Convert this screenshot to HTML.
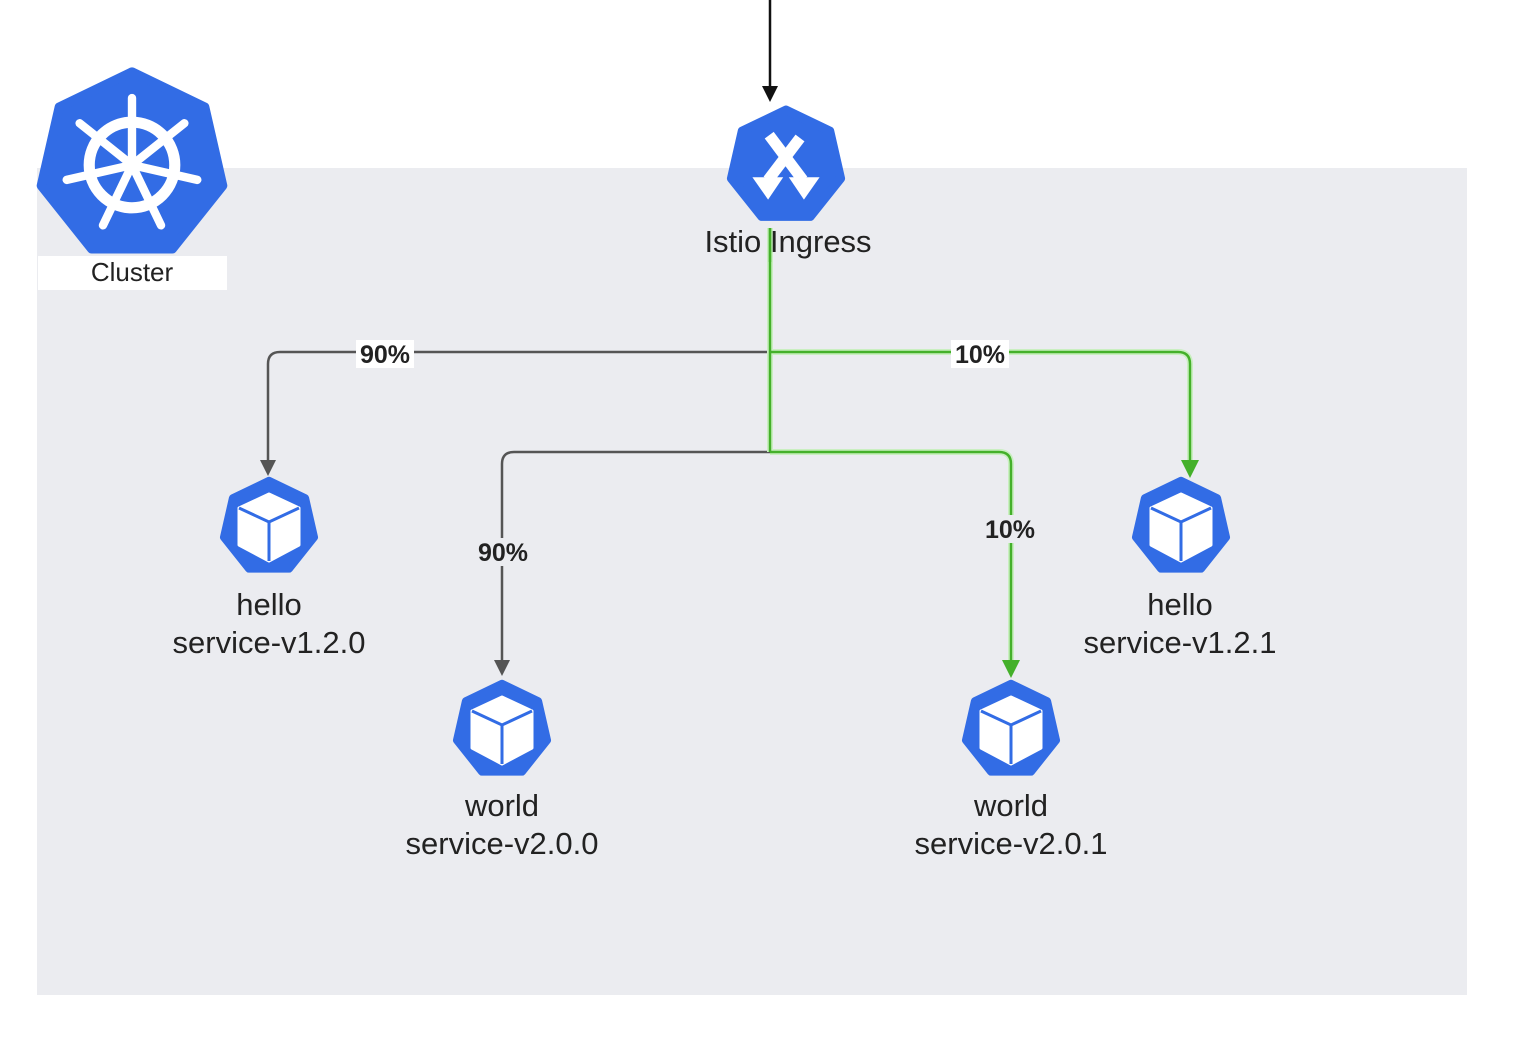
<!DOCTYPE html>
<html><head><meta charset="utf-8"><style>
html,body{margin:0;padding:0;background:#fff;}
svg{display:block;font-family:"Liberation Sans",Arial,sans-serif;}
</style></head><body>
<svg width="1518" height="1050" viewBox="0 0 1518 1050" xmlns="http://www.w3.org/2000/svg">
<defs>
<polygon id="hep" points="0,-1 0.7818,-0.6235 0.9749,0.2225 0.4339,0.901 -0.4339,0.901 -0.9749,0.2225 -0.7818,-0.6235"/>
<g id="svc">
<use href="#hep" transform="scale(0.93)" fill="#326ce5" stroke="#326ce5" stroke-width="0.16" stroke-linejoin="round"/>
<polygon points="0,-0.66 0.6,-0.38 0.6,0.36 0,0.68 -0.6,0.36 -0.6,-0.38" fill="#fff" stroke="#fff" stroke-width="0.06" stroke-linejoin="round"/>
<polyline points="-0.6,-0.38 0,-0.1 0.6,-0.38" fill="none" stroke="#326ce5" stroke-width="0.06"/>
<line x1="0" y1="-0.1" x2="0" y2="0.68" stroke="#326ce5" stroke-width="0.06"/>
</g>
</defs>
<rect x="37" y="168" width="1430" height="827" fill="#ebecf0"/>
<rect x="38" y="256" width="189" height="34" fill="#fff"/>
<line x1="770" y1="0" x2="770" y2="88" stroke="#111" stroke-width="2.5"/>
<path d="M762,86 L778,86 L770,102 Z" fill="#111"/>
<g fill="none" stroke="#555" stroke-width="2.5">
<path d="M770,352 L280,352 Q268,352 268,364 L268,462"/>
<path d="M770,452 L514,452 Q502,452 502,464 L502,662"/>
</g>
<path d="M260,460 L276,460 L268,476 Z" fill="#555"/>
<path d="M494,660 L510,660 L502,676 Z" fill="#555"/>
<g fill="none" stroke="#c9efc0" stroke-width="6">
<path d="M770,228 L770,452"/>
<path d="M770,352 L1178,352 Q1190,352 1190,364 L1190,462"/>
<path d="M770,452 L999,452 Q1011,452 1011,464 L1011,662"/>
</g>
<g fill="none" stroke="#44b02a" stroke-width="2.5">
<path d="M770,228 L770,452"/>
<path d="M770,352 L1178,352 Q1190,352 1190,364 L1190,462"/>
<path d="M770,452 L999,452 Q1011,452 1011,464 L1011,662"/>
</g>
<path d="M1181,460 L1199,460 L1190,478 Z" fill="#44b02a"/>
<path d="M1002,660 L1020,660 L1011,678 Z" fill="#44b02a"/>
<g font-size="25" font-weight="bold" fill="#222" text-anchor="middle">
<rect x="356" y="340" width="58" height="28" fill="#fff"/>
<text x="385" y="363">90%</text>
<rect x="951" y="340" width="58" height="28" fill="#fff"/>
<text x="980" y="363">10%</text>
<rect x="474" y="538" width="58" height="28" fill="#ebecf0"/>
<text x="503" y="561">90%</text>
<rect x="981" y="515" width="58" height="28" fill="#ebecf0"/>
<text x="1010" y="538">10%</text>
</g>
<g transform="translate(132,165) scale(93)">
<use href="#hep" fill="#326ce5" stroke="#326ce5" stroke-width="0.1" stroke-linejoin="round"/>
<circle r="0.46" fill="none" stroke="#fff" stroke-width="0.12"/>
<circle r="0.09" fill="#fff"/>
<g stroke="#fff" stroke-width="0.09" stroke-linecap="round">
<line x1="0" y1="0" x2="0" y2="-0.72"/>
<line x1="0" y1="0" x2="0.563" y2="-0.449"/>
<line x1="0" y1="0" x2="0.702" y2="0.16"/>
<line x1="0" y1="0" x2="0.312" y2="0.649"/>
<line x1="0" y1="0" x2="-0.312" y2="0.649"/>
<line x1="0" y1="0" x2="-0.702" y2="0.16"/>
<line x1="0" y1="0" x2="-0.563" y2="-0.449"/>
</g>
</g>
<text x="132" y="281" font-size="26" fill="#222" text-anchor="middle">Cluster</text>
<g transform="translate(786,166) scale(56)">
<use href="#hep" fill="#326ce5" stroke="#326ce5" stroke-width="0.16" stroke-linejoin="round"/>
<g stroke="#fff" stroke-width="0.2" fill="none">
<path d="M-0.3,-0.55 L0.3,0.25"/>
<path d="M0.25,-0.5 L-0.32,0.25"/>
</g>
<path d="M-0.6,0.2 L-0.05,0.2 L-0.32,0.6 Z" fill="#fff"/>
<path d="M0.05,0.2 L0.6,0.2 L0.32,0.6 Z" fill="#fff"/>
</g>
<line x1="770" y1="228" x2="770" y2="262" stroke="#44b02a" stroke-width="2.5"/>
<text x="788" y="252" font-size="31" fill="#222" text-anchor="middle">Istio Ingress</text>
<use href="#svc" transform="translate(269,527) scale(50)"/>
<use href="#svc" transform="translate(1181,527) scale(50)"/>
<use href="#svc" transform="translate(502,730) scale(50)"/>
<use href="#svc" transform="translate(1011,730) scale(50)"/>
<g font-size="31" fill="#222" text-anchor="middle">
<text x="269" y="615">hello</text><text x="269" y="653">service-v1.2.0</text>
<text x="1180" y="615">hello</text><text x="1180" y="653">service-v1.2.1</text>
<text x="502" y="816">world</text><text x="502" y="854">service-v2.0.0</text>
<text x="1011" y="816">world</text><text x="1011" y="854">service-v2.0.1</text>
</g>
</svg>
</body></html>
